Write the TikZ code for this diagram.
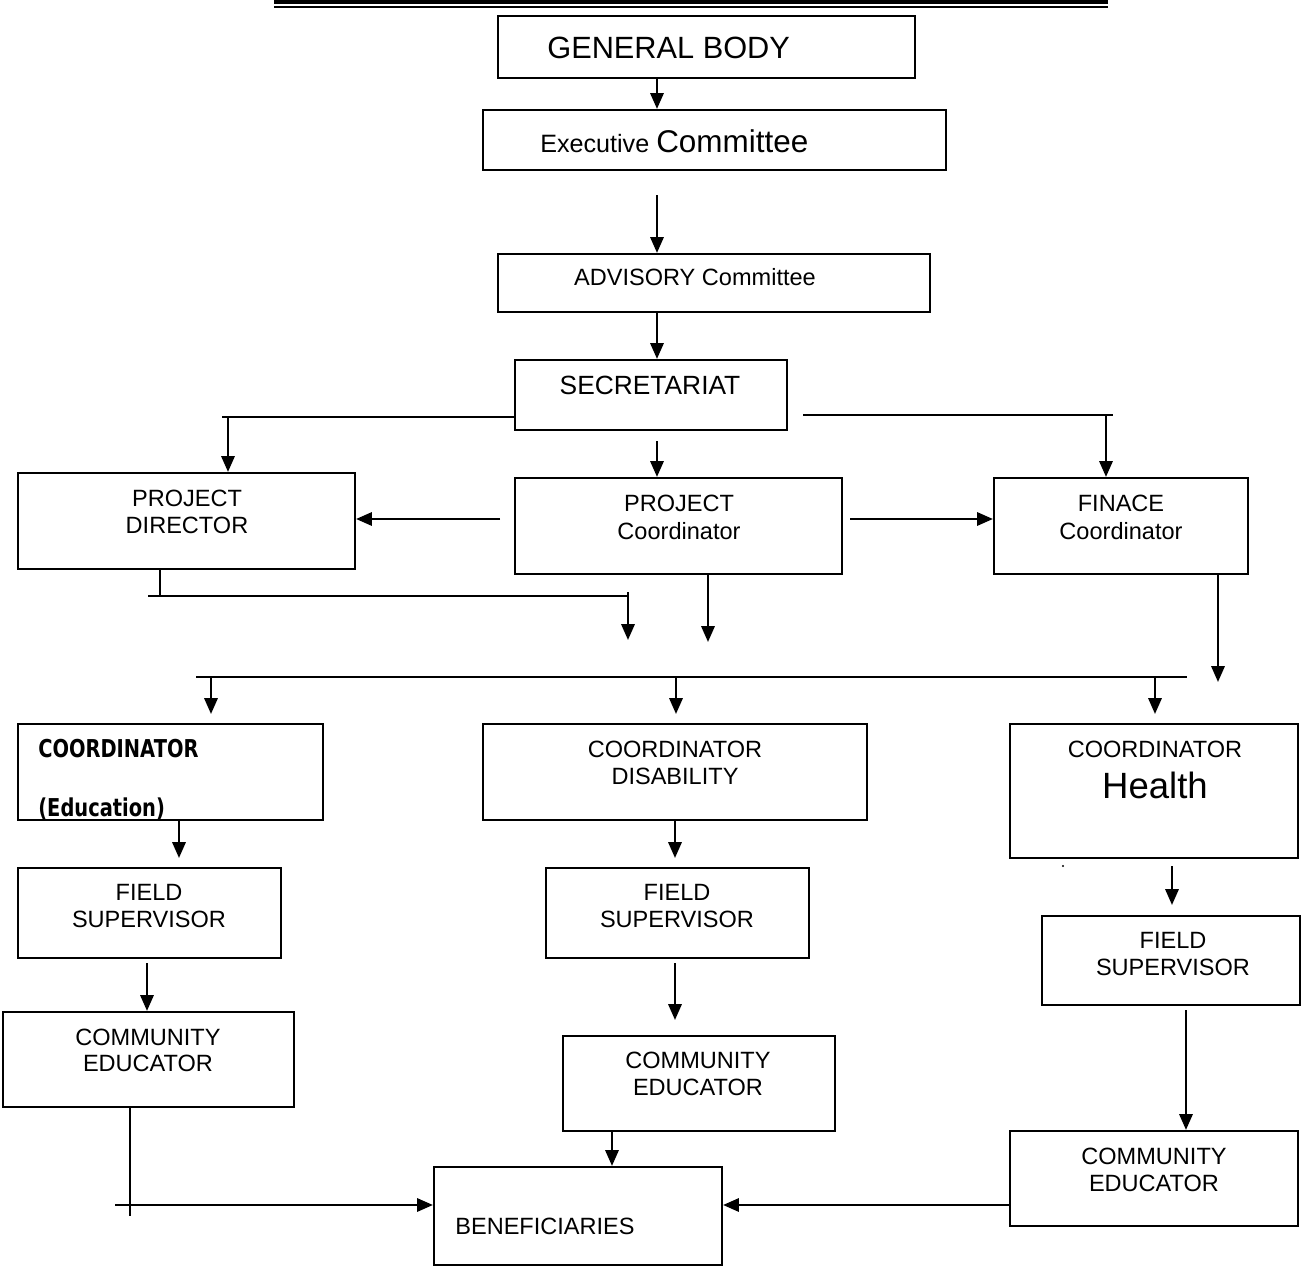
\documentclass[tikz,border=0pt]{standalone}
\usepackage{fontspec}
\usepackage{graphicx}
\setmainfont{Liberation Sans}
\newfontfamily\edufont{DejaVu Sans}
\usetikzlibrary{arrows.meta,fit}
\tikzset{
  box/.style={draw, line width=1.2pt, inner sep=0pt},
  txt/.style={anchor=base, inner sep=0pt, font=\fontsize{13.4}{15}\selectfont},
  arr/.style={line width=1.4pt, -{Triangle[length=9pt,width=7.5pt]}},
  ln/.style={line width=1.2pt},
  thin ln/.style={line width=0.8pt}
}
\begin{document}
\begin{tikzpicture}[x=0.02cm,y=-0.02cm]
\useasboundingbox (0,0) rectangle (1303,1268);
% top double rule
\draw[line width=2pt] (274,2) -- (1108,2);
\draw[line width=0.7pt] (274,7) -- (1108,7);

% boxes
\node[box, fit={(498,16) (915,78)}] (gb) {};
\node[box, fit={(483,110) (946,170)}] (ex) {};
\node[box, fit={(498,254) (930,312)}] (adv) {};
\node[box, fit={(515,360) (787,430)}] (sec) {};
\node[box, fit={(18,473) (355,569)}] (pd) {};
\node[box, fit={(515,478) (842,574)}] (pc) {};
\node[box, fit={(994,478) (1248,574)}] (fc) {};
\node[box, fit={(18,724) (323,820)}] (ced) {};
\node[box, fit={(483,724) (867,820)}] (cdi) {};
\node[box, fit={(1010,724) (1298,858)}] (che) {};
\node[box, fit={(18,868) (281,958)}] (fs1) {};
\node[box, fit={(546,868) (809,958)}] (fs2) {};
\node[box, fit={(1042,916) (1300,1005)}] (fs3) {};
\node[box, fit={(3,1012) (294,1107)}] (ce1) {};
\node[box, fit={(563,1036) (835,1131)}] (ce2) {};
\node[box, fit={(1010,1131) (1298,1226)}] (ce3) {};
\node[box, fit={(434,1167) (722,1265)}] (ben) {};

% texts
\node[txt, anchor=base west, font=\fontsize{17.5}{20}\selectfont] (tgb) at (547,58) {GENERAL BODY};
\node[txt, anchor=base west, font=\fontsize{14.3}{17}\selectfont] (tex) at (540,152) {Executive {\fontsize{17.9}{20}\selectfont Committee}};
\node[txt] (tadv) at (695,285) {ADVISORY Committee};
\node[txt, font=\fontsize{15}{17}\selectfont] (tsec) at (650,394) {SECRETARIAT};
\node[txt] (tpd1) at (187,506) {PROJECT};
\node[txt] (tpd2) at (187,533) {DIRECTOR};
\node[txt] (tpc1) at (679,511) {PROJECT};
\node[txt] (tpc2) at (679,539) {Coordinator};
\node[txt] (tfc1) at (1121,511) {FINACE};
\node[txt] (tfc2) at (1121,539) {Coordinator};
\begin{scope}
\clip (18,724) rectangle (323,820);
\node[txt, anchor=base west, font=\fontsize{14}{16}\selectfont\edufont\bfseries] (ted1) at (38,757) {\scalebox{0.79}[1]{COORDINATOR}};
\node[txt, anchor=base west, font=\fontsize{14}{16}\selectfont\edufont\bfseries] (ted2) at (38,816) {\scalebox{0.79}[1]{(Education)}};
\end{scope}
\node[txt] (tcd1) at (675,757) {COORDINATOR};
\node[txt] (tcd2) at (675,784) {DISABILITY};
\node[txt] (tch1) at (1155,757) {COORDINATOR};
\node[txt, font=\fontsize{20.8}{24}\selectfont] (tch2) at (1155,798) {Health};
\node[txt] (tf11) at (149,900) {FIELD};
\node[txt] (tf12) at (149,927) {SUPERVISOR};
\node[txt] (tf21) at (677,900) {FIELD};
\node[txt] (tf22) at (677,927) {SUPERVISOR};
\node[txt] (tf31) at (1173,948) {FIELD};
\node[txt] (tf32) at (1173,975) {SUPERVISOR};
\node[txt] (tc11) at (148,1045) {COMMUNITY};
\node[txt] (tc12) at (148,1071) {EDUCATOR};
\node[txt] (tc21) at (698,1068) {COMMUNITY};
\node[txt] (tc22) at (698,1095) {EDUCATOR};
\node[txt] (tc31) at (1154,1164) {COMMUNITY};
\node[txt] (tc32) at (1154,1191) {EDUCATOR};
\node[txt, anchor=base west] (tben) at (455,1234) {BENEFICIARIES};

% free-end coordinates
\coordinate (e1) at (657,195);
\coordinate (sl) at (222,417);
\coordinate (sr) at (803,415);
\coordinate (sre) at (1113,415);
\coordinate (sc) at (657,441);
\coordinate (pcl) at (500,519);
\coordinate (pcr) at (850,519);
\coordinate (pdb) at (160,596);
\coordinate (hb1) at (148,596);
\coordinate (hb2) at (628,596);
\coordinate (a1) at (628,640);
\coordinate (a2) at (708,642);
\coordinate (a3) at (1218,682);
\coordinate (bus1) at (196,677);
\coordinate (bus2) at (1187,677);
\coordinate (b1) at (211,714);
\coordinate (b2) at (676,714);
\coordinate (b3) at (1155,714);
\coordinate (f1) at (179,858);
\coordinate (f2) at (675,858);
\coordinate (f3s) at (1172,866);
\coordinate (f3) at (1172,905);
\coordinate (g1s) at (147,963);
\coordinate (g2s) at (675,963);
\coordinate (g2) at (675,1020);
\coordinate (g3s) at (1186,1010);
\coordinate (c1b) at (130,1216);
\coordinate (c1l) at (115,1205);

% connectors
\draw[arr] (gb.south -| 657,0) -- (ex.north -| 657,0);
\draw[arr] (e1) -- (adv.north -| e1);
\draw[arr] (adv.south -| 657,0) -- (sec.north -| 657,0);
\draw[ln] (sec.west |- sl) -- (sl);
\draw[arr] (228,417) -- (pd.north -| 228,0);
\draw[ln] (sr) -- (sre);
\draw[arr] (1106,415) -- (fc.north -| 1106,0);
\draw[arr] (sc) -- (pc.north -| sc);
\draw[arr] (pcl) -- (pd.east |- pcl);
\draw[arr] (pcr) -- (fc.west |- pcr);
\draw[thin ln] (pd.south -| pdb) -- (pdb);
\draw[ln] (hb1) -- (hb2);
\draw[arr] (628,592) -- (a1);
\draw[arr] (pc.south -| a2) -- (a2);
\draw[arr] (fc.south -| a3) -- (a3);
\draw[ln] (bus1) -- (bus2);
\draw[arr] (b1 |- bus1) -- (b1);
\draw[arr] (b2 |- bus1) -- (b2);
\draw[arr] (b3 |- bus1) -- (b3);
\draw[arr] (ced.south -| f1) -- (f1);
\draw[arr] (cdi.south -| f2) -- (f2);
\fill (1063,866) circle (1.2);
\draw[arr] (f3s) -- (f3);
\draw[arr] (g1s) -- (ce1.north -| g1s);
\draw[arr] (g2s) -- (g2);
\draw[arr] (g3s) -- (ce3.north -| g3s);
\draw[thin ln] (ce1.south -| c1b) -- (c1b);
\draw[arr] (c1l) -- (ben.west |- c1l);
\draw[arr] (ce2.south -| 612,0) -- (ben.north -| 612,0);
\draw[arr] (ce3.west |- c1l) -- (ben.east |- c1l);
\end{tikzpicture}
\end{document}
